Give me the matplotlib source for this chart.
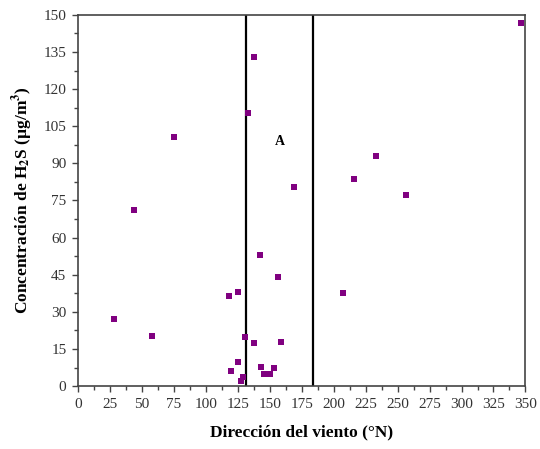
import matplotlib
matplotlib.use("Agg")
import matplotlib.pyplot as plt
from matplotlib.ticker import MultipleLocator

plt.rcParams["font.family"] = ["Liberation Serif", "DejaVu Serif"]
plt.rcParams["mathtext.fontset"] = "stix"

# wind direction (deg N) and H2S concentration (ug/m3)
direccion = [27.6, 57.8, 43.7, 74.8, 118.1, 119.3, 124.9, 125.4, 127.0, 128.6,
             129.0, 130.4, 133.0, 137.7, 137.4, 141.9, 142.7, 145.3, 150.2, 153.3,
             156.5, 158.6, 168.8, 207.1, 215.7, 232.7, 256.5, 346.3]
concentracion = [27.2, 20.2, 71.3, 100.8, 36.4, 6.2, 38.1, 9.8, 2.1, 3.5,
                 3.8, 20.0, 110.5, 133.0, 17.6, 52.8, 7.8, 5.1, 4.8, 7.4,
                 44.0, 17.9, 80.5, 37.6, 83.7, 92.9, 77.1, 146.5]
limites = [131.5, 184.0]
etiqueta_zona = "A"
pos_zona = (157.8, 98.7)

fig = plt.figure(figsize=(5.4, 4.49), dpi=100)
ax = fig.add_axes([0.145, 0.140, 0.828, 0.827])

ax.scatter(direccion, concentracion, marker="s", s=22, color="#800080",
           linewidths=0, zorder=3)
for x in limites:
    ax.axvline(x, color="black", linewidth=1.6, zorder=2)
ax.text(pos_zona[0], pos_zona[1], etiqueta_zona, fontsize=10, fontweight="bold",
        ha="center", va="center")

ax.set_xlim(0, 350)
ax.set_ylim(0, 150)
ax.xaxis.set_major_locator(MultipleLocator(25))
ax.xaxis.set_minor_locator(MultipleLocator(12.5))
ax.yaxis.set_major_locator(MultipleLocator(15))
ax.yaxis.set_minor_locator(MultipleLocator(7.5))
ax.tick_params(which="both", direction="out", color="#444444", labelsize=11,
               labelcolor="#333333", top=False, right=False)
ax.tick_params(which="major", length=4.5, width=1, pad=4)
ax.tick_params(which="minor", length=3, width=1)
for s in ax.spines.values():
    s.set_color("#444444")
    s.set_linewidth(1.2)

ax.set_xlabel("Dirección del viento (°N)", fontsize=12.5, fontweight="bold",
              labelpad=10)
ax.set_ylabel(r"Concentración de H$_\mathbf{2}$S (µg/m$^\mathbf{3}$)",
              fontsize=12.5, fontweight="bold", labelpad=6)

fig.savefig("out.png", dpi=100)
